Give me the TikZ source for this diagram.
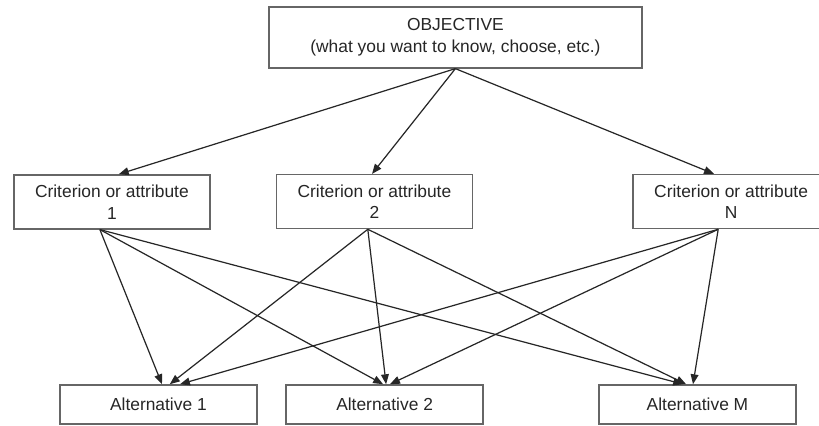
\documentclass[tikz,border=0pt]{standalone}
\usepackage{fontspec}
\setmainfont{Liberation Sans}
\usetikzlibrary{arrows.meta}
\tikzset{
  box/.style={draw=black!60, line width=1.3pt, fill=white, text=black!85, align=center, inner sep=0pt, font=\fontsize{16.5}{20.5}\selectfont},
  critbox/.style={box, minimum width=6.53cm, minimum height=1.8cm},
  altbox/.style={box, minimum width=6.57cm, minimum height=1.3cm},
  link/.style={-{Triangle[length=3.3mm,width=2.6mm]}, line width=1.15pt, black!85},
}
\begin{document}
\begin{tikzpicture}
        \useasboundingbox[fill=white] (0,0) rectangle (27.3,-14.167);
        \node[box, minimum width=12.43cm, minimum height=2.03cm] (obj) at (15.18,-1.25) {OBJECTIVE\\(what you want to know, choose, etc.)};
        \node[critbox] (c1) at (3.73,-6.73) {Criterion or attribute\\1};
        \node[critbox] (c2) at (12.48,-6.72) {Criterion or attribute\\2};
        \node[critbox] (cN) at (24.37,-6.72) {Criterion or attribute\\N};
        \node[altbox] (a1) at (5.28,-13.48) {Alternative 1};
        \node[altbox] (a2) at (12.82,-13.48) {Alternative 2};
        \node[altbox] (aM) at (23.25,-13.48) {Alternative M};
        \coordinate (s1) at ([xshift=-0.4cm]c1.south);
        \coordinate (s2) at ([xshift=-0.22cm]c2.south);
        \coordinate (sN) at ([xshift=-0.43cm]cN.south);
        \draw[link] (obj.south) -- ([xshift=0.23cm]c1.north);
        \draw[link] (obj.south) -- ([xshift=-0.08cm]c2.north);
        \draw[link] (obj.south) -- ([xshift=-0.57cm]cN.north);
        \draw[link] (s1) -- ([xshift=0.12cm]a1.north);
        \draw[link] (s1) -- ([xshift=-0.05cm]a2.north);
        \draw[link] (s1) -- ([xshift=-0.48cm]aM.north);
        \draw[link] (s2) -- ([xshift=0.38cm]a1.north);
        \draw[link] (s2) -- ([xshift=0.05cm]a2.north);
        \draw[link] (s2) -- ([xshift=-0.38cm]aM.north);
        \draw[link] (sN) -- ([xshift=0.72cm]a1.north);
        \draw[link] (sN) -- ([xshift=0.18cm]a2.north);
        \draw[link] (sN) -- ([xshift=-0.15cm]aM.north);
    \end{tikzpicture}
\end{document}
